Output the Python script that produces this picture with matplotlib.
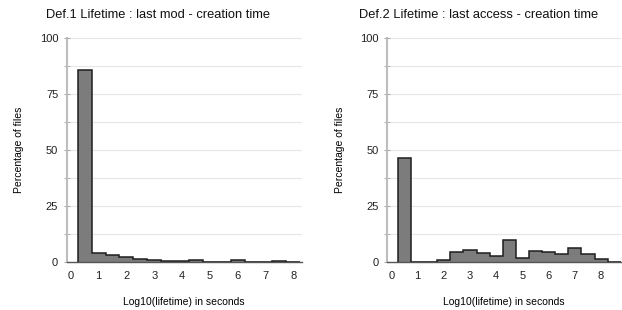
import numpy as np
import matplotlib.pyplot as plt

plt.rcParams['font.family'] = ['Liberation Sans', 'DejaVu Sans']

# bin edges (log10 of lifetime in seconds), 0.5 wide
edges_mod = np.arange(0.25, 8.26, 0.5)
edges_acc = np.arange(0.25, 8.76, 0.5)

# percentage of files per bin
pct_mod = [85.5, 4.3, 3.4, 2.5, 1.3, 0.9, 0.6, 0.6, 0.9, 0.0, 0.0, 0.8, 0.0, 0.0, 0.6, 0.0]
pct_acc = [46.6, 0.1, 0.3, 1.2, 4.6, 5.3, 4.0, 3.0, 9.8, 2.1, 4.9, 4.6, 3.6, 6.4, 3.7, 1.3, 0.3]

titles = ["Def.1 Lifetime : last mod - creation time",
          "Def.2 Lifetime : last access - creation time"]
xlims = [(-0.15, 8.3), (-0.17, 8.75)]

fig = plt.figure(figsize=(6.22, 3.10), dpi=100)
ax1 = fig.add_axes([0.107, 0.154, 0.378, 0.724])
ax2 = fig.add_axes([0.622, 0.154, 0.376, 0.724])

# titles sit left of the plot areas
fig.text(46 / 622, 0.953, titles[0], fontsize=9.3, color='#111111', va='center')
fig.text(359 / 622, 0.953, titles[1], fontsize=9.3, color='#111111', va='center')

for ax, edges, vals, xl in zip([ax1, ax2], [edges_mod, edges_acc],
                               [pct_mod, pct_acc], xlims):
    ax.stairs(vals, edges, fill=True, color='#7c7c7c', zorder=2)
    ax.stairs(vals, edges, color='#1e1e1e', lw=1.1, zorder=3)
    ax.set_xlim(*xl)
    ax.set_ylim(0, 100)
    ax.set_xticks(range(0, 9))
    ax.set_yticks([0, 25, 50, 75, 100])
    ax.set_yticks(np.arange(12.5, 100, 25), minor=True)
    ax.grid(axis='y', which='both', color='#e6e6e6', lw=0.8, zorder=0)
    ax.tick_params(axis='x', length=0, pad=6, labelsize=8, colors='#222222')
    ax.tick_params(axis='y', which='both', length=4, direction='inout',
                   color='#aaaaaa', labelsize=8, labelcolor='#222222', pad=4)
    for s in ['top', 'right']:
        ax.spines[s].set_visible(False)
    ax.spines['left'].set_color('#bdbdbd')
    ax.spines['left'].set_linewidth(1.5)
    ax.spines['bottom'].set_color('#555555')
    ax.spines['bottom'].set_linewidth(1.0)
    ax.set_xlabel("Log10(lifetime) in seconds", fontsize=7.5, labelpad=12)
    ax.set_ylabel("Percentage of files", fontsize=7.5, labelpad=11)

fig.savefig("out.png", dpi=100)
